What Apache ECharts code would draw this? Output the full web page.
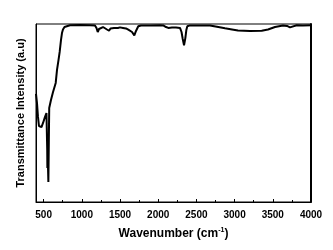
<!DOCTYPE html>
<html>
<head>
<meta charset="utf-8">
<script src="https://cdn.jsdelivr.net/npm/echarts@6/dist/echarts.min.js"></script>
<style>html,body{margin:0;padding:0;background:#fff}#c{width:333px;height:250px}</style>
</head>
<body>
<div id="c"></div>
<script>
var wavenumber = [400,413,426,439,452,472,492,518,537,547,549,554,558,562,568,573,596,623,658,675,695,710,727,740,753,773,799,845,976,1107,1172,1192,1208,1225,1251,1277,1303,1329,1356,1375,1391,1421,1447,1473,1500,1539,1578,1608,1631,1657,1687,1709,1739,1775,1892,2023,2066,2102,2132,2180,2233,2285,2305,2321,2338,2355,2368,2381,2416,2547,2678,2769,2874,2966,3044,3201,3355,3437,3529,3633,3686,3725,3751,3813,3895,4000];
var transmittance = [60.7,55.6,47.8,42.7,41.6,42.1,44.4,47.8,50.0,29.2,19.1,29.2,18.0,11.2,34.8,52.8,57.3,61.8,66.9,74.2,79.8,84.3,91.0,94.9,96.9,98.3,98.9,99.3,99.4,99.3,99.2,97.8,95.5,97.2,97.8,98.3,98.0,96.9,96.2,97.5,98.3,97.8,98.3,97.8,98.1,97.8,97.5,96.8,97.2,95.5,93.6,96.1,98.7,99.2,99.2,99.3,99.2,98.3,97.8,98.0,98.0,97.8,95.5,91.6,88.0,92.1,96.6,98.7,99.2,99.2,99.2,98.5,97.6,96.9,96.3,96.1,96.2,96.9,98.3,99.2,98.9,98.1,98.9,99.3,99.2,99.3];
var majorTicks = [500,1000,1500,2000,2500,3000,3500,4000];
var minorTicks = [750,1250,1750,2250,2750,3250,3750];
var xTitle = 'Wavenumber (cm{sup|-1})';
var yTitle = 'Transmittance Intensity (a.u)';

var pts = wavenumber.map(function(w,i){return [w, transmittance[i]];});
var font = 'Liberation Sans, Arial, sans-serif';
var chart = echarts.init(document.getElementById('c'), null, {renderer:'canvas'});
chart.setOption({
  animation:false,
  backgroundColor:'#fff',
  grid:{left:36,right:22,top:24,bottom:48,show:true,borderColor:'#000',borderWidth:1,backgroundColor:'transparent'},
  xAxis:[{
    type:'value',min:400,max:4000,
    axisLine:{show:true,onZero:false,lineStyle:{color:'#000',width:1}},
    axisTick:{show:true,inside:true,length:3,customValues:majorTicks,lineStyle:{color:'#000',width:1}},
    axisLabel:{show:true,customValues:majorTicks,color:'#000',fontFamily:font,fontWeight:'bold',fontSize:10,margin:8,
      formatter:function(v){return String(v);}},
    splitLine:{show:false},
    name:xTitle,nameLocation:'middle',nameGap:25,
    nameTextStyle:{color:'#000',fontFamily:font,fontWeight:'bold',fontSize:12,
      rich:{sup:{fontSize:7,fontWeight:'bold',fontFamily:font,color:'#000',verticalAlign:'top',padding:[0,0,7,0]}}}
  },{
    type:'value',min:400,max:4000,position:'bottom',
    axisLine:{show:false},
    axisTick:{show:true,inside:true,length:2,customValues:minorTicks,lineStyle:{color:'#000',width:1}},
    axisLabel:{show:false},splitLine:{show:false}
  }],
  yAxis:[{
    type:'value',min:0,max:100,
    axisLine:{show:true,onZero:false,lineStyle:{color:'#000',width:1}},
    axisTick:{show:false},axisLabel:{show:false},splitLine:{show:false},
    name:yTitle,nameLocation:'middle',nameGap:10,nameRotate:90,
    nameTextStyle:{color:'#000',fontFamily:font,fontWeight:'bold',fontSize:11}
  },{
    type:'value',min:0,max:100,position:'right',
    axisLine:{show:true,onZero:false,lineStyle:{color:'#000',width:2}},
    axisTick:{show:false},axisLabel:{show:false},splitLine:{show:false}
  }],
  series:[{
    type:'line',xAxisIndex:0,yAxisIndex:0,data:pts,showSymbol:false,symbol:'none',
    lineStyle:{color:'#000',width:2},clip:false
  }]
});
</script>
</body>
</html>
